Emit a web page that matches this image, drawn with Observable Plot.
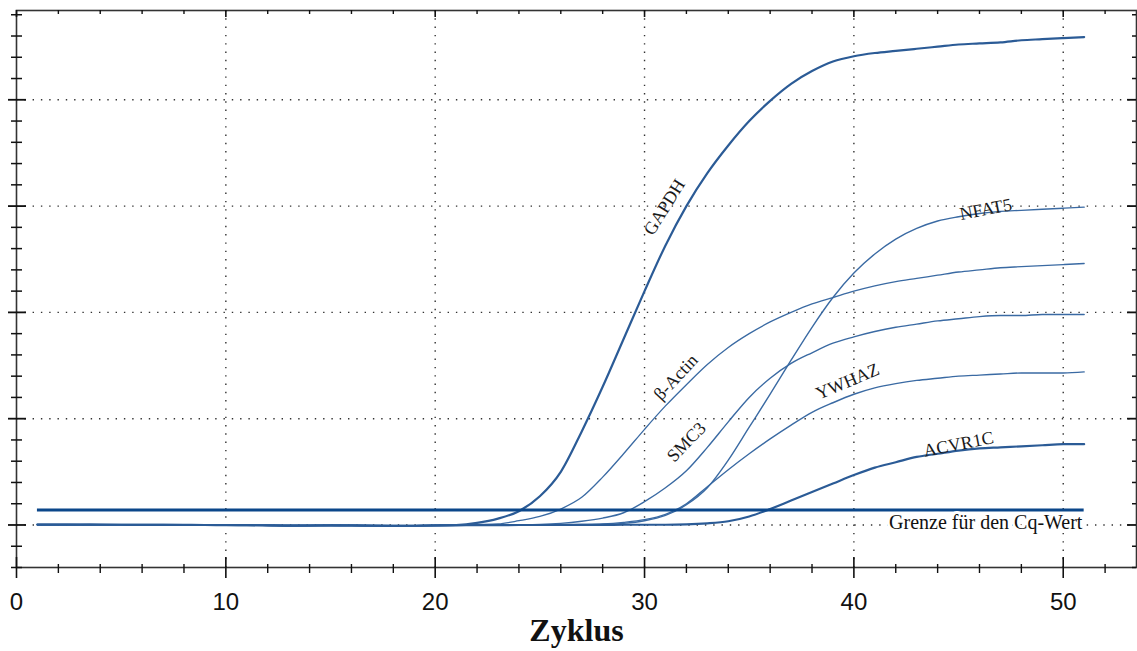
<!DOCTYPE html>
<html>
<head>
<meta charset="utf-8">
<script src="https://cdn.jsdelivr.net/npm/d3@7"></script>
<script src="https://cdn.jsdelivr.net/npm/@observablehq/plot@0.6"></script>
<style>
  html, body { margin: 0; padding: 0; background: #fff; }
  #chart svg { display: block; }
</style>
</head>
<body>
<div id="chart"></div>
<script>
// ---- Data (fluorescence in thousands, per cycle 1..51) ----
const cycles = d3.range(1, 52);

const gapdh = [0.004,0.003,0.003,0.002,0.002,0.001,0.002,0.001,0.000,0.000,
  -0.002,-0.003,-0.006,-0.005,-0.003,-0.004,-0.006,-0.008,-0.007,-0.004,
  0.000,0.020,0.060,0.130,0.270,0.500,0.880,1.300,1.750,2.200,
  2.630,3.000,3.310,3.570,3.800,3.990,4.150,4.270,4.360,4.410,
  4.440,4.460,4.480,4.500,4.520,4.530,4.540,4.560,4.570,4.580,4.590];

const bActin = [0.003,0.004,0.002,0.003,0.001,0.002,0.000,0.001,-0.001,0.000,
  -0.001,-0.004,-0.007,-0.004,-0.004,-0.005,-0.007,-0.009,-0.006,-0.003,
  0.000,0.005,0.010,0.040,0.080,0.150,0.260,0.450,0.670,0.900,
  1.120,1.320,1.510,1.670,1.800,1.910,2.000,2.080,2.140,2.200,
  2.250,2.290,2.320,2.350,2.380,2.400,2.420,2.430,2.440,2.450,2.460];

const smc3 = [0.002,0.003,0.004,0.002,0.002,0.001,0.001,0.000,0.000,-0.001,
  -0.002,-0.003,-0.005,-0.006,-0.004,-0.003,-0.006,-0.007,-0.008,-0.005,
  -0.002,0.000,0.001,0.002,0.005,0.015,0.035,0.065,0.115,0.220,
  0.350,0.510,0.730,0.970,1.200,1.380,1.520,1.620,1.710,1.770,
  1.820,1.860,1.890,1.920,1.940,1.960,1.970,1.970,1.980,1.980,1.980];

const ywhaz = [0.003,0.002,0.003,0.001,0.002,0.002,0.000,0.001,0.000,-0.001,
  -0.001,-0.004,-0.006,-0.005,-0.005,-0.004,-0.005,-0.008,-0.007,-0.005,
  -0.003,-0.001,0.000,0.000,0.001,0.002,0.005,0.010,0.025,0.050,
  0.100,0.200,0.360,0.520,0.670,0.810,0.940,1.060,1.150,1.230,
  1.290,1.330,1.360,1.380,1.400,1.410,1.420,1.430,1.430,1.430,1.440];

const nfat5 = [0.002,0.003,0.002,0.002,0.001,0.001,0.001,0.000,-0.001,0.000,
  -0.002,-0.003,-0.005,-0.004,-0.004,-0.006,-0.006,-0.007,-0.006,-0.004,
  -0.002,-0.001,0.000,0.000,0.001,0.002,0.003,0.005,0.015,0.040,
  0.090,0.190,0.350,0.610,0.920,1.230,1.550,1.860,2.140,2.370,
  2.550,2.690,2.790,2.860,2.900,2.930,2.950,2.960,2.970,2.980,2.990];

const acvr1c = [0.004,0.003,0.002,0.003,0.002,0.001,0.001,0.000,0.000,-0.001,
  -0.002,-0.004,-0.006,-0.006,-0.004,-0.005,-0.007,-0.008,-0.007,-0.005,
  -0.003,-0.002,-0.001,0.000,0.000,0.000,0.001,0.001,0.002,0.002,
  0.002,0.005,0.015,0.035,0.080,0.150,0.230,0.310,0.390,0.470,
  0.540,0.590,0.640,0.670,0.700,0.720,0.730,0.740,0.750,0.760,0.760];

const geneNames = ["GAPDH", "β-Actin", "SMC3", "YWHAZ", "NFAT5", "ACVR1C"];
const geneValues = [gapdh, bActin, smc3, ywhaz, nfat5, acvr1c];
const geneWidths = [2.2, 1.3, 1.4, 1.4, 1.4, 2.2];

// Curve labels (annotation anchors, in data units) and rotation
const labelX = [30.95, 31.5, 32.0, 39.7, 46.3, 45.0];
const labelY = [2.99, 1.39, 0.78, 1.35, 2.97, 0.76];
const labelAngle = [-58, -47, -46, -23, -11, -11];

// Threshold
const thresholdValue = 0.141;
const thresholdStart = 1;
const thresholdEnd = 51;
const thresholdLabel = "Grenze für den Cq-Wert";
const thresholdLabelX = 46.3;
const thresholdLabelY = 0.02;

// Axes
const xDomain = [0, 53.5];
const yDomain = [-0.4, 4.84];
const xTicks = [0, 10, 20, 30, 40, 50];
const xTickLabels = ["0", "10", "20", "30", "40", "50"];
const xMinorTicks = [2,4,6,8,12,14,16,18,22,24,26,28,32,34,36,38,42,44,46,48,52];
const yTicks = [0, 1, 2, 3, 4];
const yMinorTicks = [-0.4,-0.2,0.2,0.4,0.6,0.8,1.2,1.4,1.6,1.8,2.2,2.4,2.6,2.8,3.2,3.4,3.6,3.8,4.2,4.4,4.6,4.8];
const xLabel = "Zyklus";

// ---- Layout ----
const W = 1137, H = 651;
const mT = 10, mB = 84, mL = 16, mR = 1;
const fw = W - mL - mR, fh = H - mT - mB;

const lineColor = "#3a6aa3";
const darkLine = "#2b5b96";
const serif = "'Liberation Serif', 'Times New Roman', serif";
const sans = "'Liberation Sans', Arial, sans-serif";

const curveMarks = geneValues.map((vals, i) =>
  Plot.line(cycles, {
    x: d => d,
    y: (d, j) => vals[j],
    stroke: geneWidths[i] > 2 ? darkLine : lineColor,
    strokeWidth: geneWidths[i],
    curve: "monotone-x"
  })
);

const labelRows = geneNames.map((name, i) => ({name, x: labelX[i], y: labelY[i], a: labelAngle[i]}));

const chart = Plot.plot({
  width: W,
  height: H,
  marginTop: mT,
  marginBottom: mB,
  marginLeft: mL,
  marginRight: mR,
  x: {domain: xDomain, axis: null},
  y: {domain: yDomain, axis: null},
  style: {background: "#fff", overflow: "visible"},
  marks: [
    // dotted grid
    Plot.ruleY(yTicks, {y: d => d, stroke: "#333", strokeWidth: 1.4, strokeDasharray: "1.4,6.9"}),
    Plot.ruleX(xTicks.filter(d => d > 0), {x: d => d, stroke: "#333", strokeWidth: 1.4, strokeDasharray: "1.4,6.9"}),
    // curves
    ...curveMarks,
    // threshold line
    Plot.ruleY([thresholdValue], {y: d => d, x1: thresholdStart, x2: thresholdEnd, stroke: "#0b478a", strokeWidth: 3}),
    // threshold label
    Plot.text([thresholdLabel], {
      x: thresholdLabelX, y: thresholdLabelY, text: d => d,
      fontFamily: serif, fontSize: 20, fill: "#111",
      stroke: "#fff", strokeWidth: 6, paintOrder: "stroke"
    }),
    // curve labels
    Plot.text(labelRows, {
      x: "x", y: "y", text: "name", rotate: "a",
      fontFamily: serif, fontSize: 18, fill: "#1a1a1a"
    }),
    // frame
    Plot.frame({stroke: "#333", strokeWidth: 1.6}),
    // bottom ticks (crossing)
    Plot.tickX(xTicks, {x: d => d, insetTop: fh - 10, insetBottom: -11, stroke: "#111", strokeWidth: 1.6}),
    Plot.tickX(xMinorTicks, {x: d => d, insetTop: fh - 3, insetBottom: -6, stroke: "#111", strokeWidth: 1.4}),
    // top ticks (inward)
    Plot.tickX(xTicks, {x: d => d, insetTop: 0, insetBottom: fh - 7, stroke: "#111", strokeWidth: 1.6}),
    Plot.tickX(xMinorTicks, {x: d => d, insetTop: 0, insetBottom: fh - 4, stroke: "#111", strokeWidth: 1.4}),
    // left ticks (crossing)
    Plot.tickY(yTicks, {y: d => d, insetLeft: -8, insetRight: fw - 10, stroke: "#111", strokeWidth: 1.8}),
    Plot.tickY(yMinorTicks, {y: d => d, insetLeft: -5, insetRight: fw - 6, stroke: "#111", strokeWidth: 1.5}),
    // right ticks (inward)
    Plot.tickY(yTicks, {y: d => d, insetLeft: fw - 9, insetRight: 0, stroke: "#111", strokeWidth: 1.8}),
    Plot.tickY(yMinorTicks, {y: d => d, insetLeft: fw - 4, insetRight: 0, stroke: "#111", strokeWidth: 1.5}),
    // x tick labels
    Plot.text(xTicks, {
      x: d => d, frameAnchor: "bottom", dy: 42, text: (d, i) => xTickLabels[i],
      fontFamily: sans, fontSize: 24, fill: "#111"
    }),
    // x axis title
    Plot.text([xLabel], {
      frameAnchor: "bottom", dy: 73, text: d => d,
      fontFamily: serif, fontSize: 32, fontWeight: "bold", fill: "#111"
    })
  ]
});

document.getElementById("chart").appendChild(chart);
</script>
</body>
</html>
